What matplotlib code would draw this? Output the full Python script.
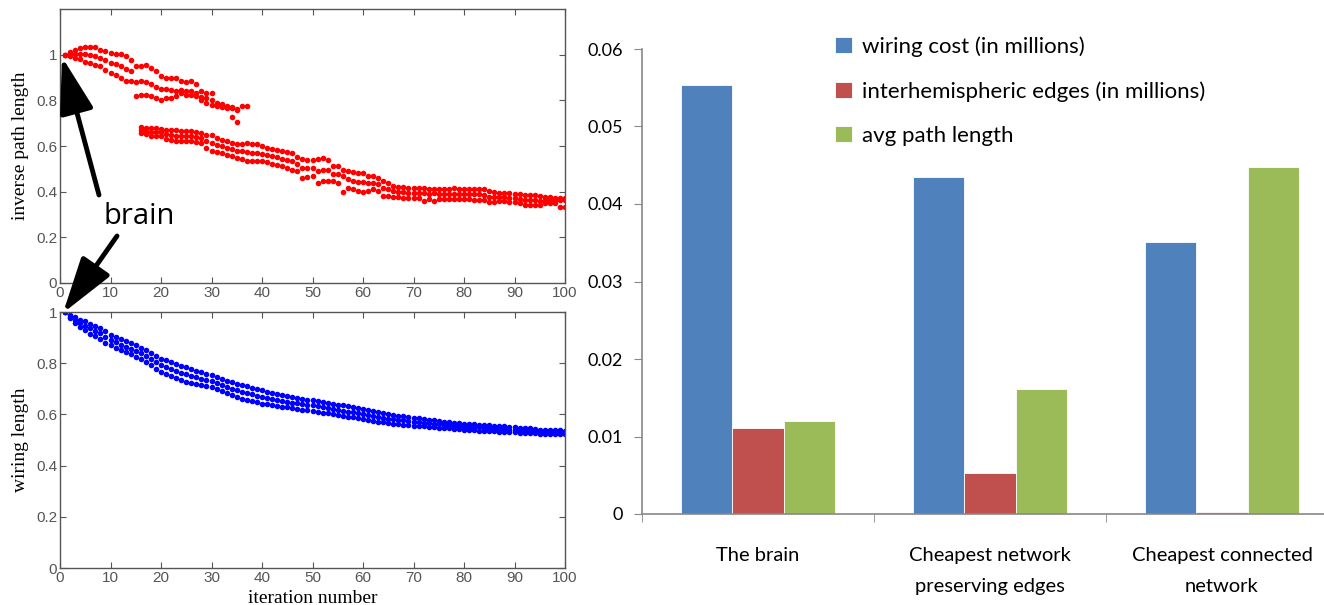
import numpy as np
import matplotlib as mpl
mpl.use('Agg')
import matplotlib.pyplot as plt

nan = np.nan

# ---- left: red scatter (inverse path length) ----
# upper branch, iterations 1..37
red_up_iter = list(range(1, 38))
red_up_hi = [1.000, 1.010, 1.020, 1.030, 1.035, 1.035, 1.035, 1.020, 1.015, 1.007,
             1.005, 1.005, 0.993, 0.978, 0.950, 0.950, 0.956, 0.942, 0.927, 0.905,
             0.900, 0.900, 0.900, 0.883, 0.880, 0.883, 0.870, 0.840, 0.832, 0.830,
             0.790, 0.783, 0.774, 0.770, 0.762, 0.774, 0.774]
red_up_mid = [1.000, 1.002, 1.003, 1.005, 1.003, 1.000, 0.995, 0.985, 0.975, 0.963,
              0.958, 0.952, 0.938, 0.930, 0.880, 0.885, 0.880, 0.870, 0.860, 0.850,
              0.850, 0.845, 0.840, 0.845, 0.840, 0.840, 0.830, 0.815, 0.810, 0.800,
              0.780, 0.776, 0.770, 0.765, 0.757, nan, nan]
red_up_lo = [1.000, 0.995, 0.985, 0.980, 0.970, 0.965, 0.955, 0.950, 0.935, 0.920,
             0.912, 0.900, 0.883, 0.883, 0.818, 0.825, 0.825, 0.818, 0.810, 0.800,
             0.812, 0.812, 0.820, 0.830, 0.825, 0.825, 0.817, 0.800, 0.790, 0.780,
             0.774, 0.770, 0.767, 0.727, 0.704, nan, nan]

# lower branch, iterations 16..100
red_lo_iter = list(range(16, 101))
red_lo_hi = [0.683, 0.680, 0.680, 0.678, 0.676, 0.672, 0.670, 0.668, 0.667, 0.665,
             0.664, 0.660, 0.657, 0.650, 0.648, 0.635, 0.628, 0.620, 0.615, 0.608,
             0.607, 0.612, 0.610, 0.608, 0.600, 0.593, 0.588, 0.584, 0.578, 0.575,
             0.570, 0.552, 0.545, 0.540, 0.540, 0.542, 0.548, 0.540, 0.512, 0.512,
             0.497, 0.490, 0.485, 0.482, 0.482, 0.468, 0.468, 0.462, 0.448, 0.440,
             0.425, 0.420, 0.420, 0.418, 0.418, 0.416, 0.416, 0.412, 0.410, 0.410,
             0.410, 0.412, 0.415, 0.413, 0.410, 0.412, 0.410, 0.410, 0.410, 0.402,
             0.398, 0.395, 0.392, 0.392, 0.390, 0.388, 0.386, 0.384, 0.384, 0.382,
             0.375, 0.375, 0.374, 0.373, 0.372]
red_lo_mid = [0.670, 0.666, 0.662, 0.660, 0.660, 0.651, 0.648, 0.645, 0.643, 0.642,
              0.642, 0.639, 0.635, 0.621, 0.612, 0.603, 0.599, 0.591, 0.586, 0.578,
              0.576, 0.573, 0.571, 0.570, 0.566, 0.561, 0.555, 0.551, 0.545, 0.540,
              0.533, 0.522, 0.503, 0.502, 0.504, 0.491, 0.496, 0.494, 0.478, 0.476,
              0.470, 0.454, 0.448, 0.443, 0.441, 0.436, 0.439, 0.432, 0.415, 0.410,
              0.401, 0.397, 0.397, 0.395, 0.395, 0.394, 0.395, 0.391, 0.392, 0.389,
              0.389, 0.390, 0.390, 0.390, 0.388, 0.389, 0.388, 0.388, 0.387, 0.378,
              0.376, 0.376, 0.375, 0.374, 0.373, 0.370, 0.363, 0.362, 0.362, 0.361,
              0.362, 0.362, 0.362, 0.362, 0.362]
red_lo_lo = [0.657, 0.652, 0.645, 0.643, 0.643, 0.630, 0.625, 0.622, 0.620, 0.620,
             0.620, 0.618, 0.613, 0.592, 0.577, 0.572, 0.570, 0.562, 0.557, 0.548,
             0.545, 0.535, 0.533, 0.533, 0.533, 0.530, 0.522, 0.518, 0.512, 0.505,
             0.497, 0.492, 0.462, 0.465, 0.468, 0.440, 0.445, 0.448, 0.445, 0.440,
             0.398, 0.418, 0.412, 0.405, 0.400, 0.405, 0.410, 0.402, 0.382, 0.380,
             0.378, 0.375, 0.374, 0.373, 0.372, 0.372, 0.358, 0.370, 0.358, 0.368,
             0.368, 0.368, 0.366, 0.366, 0.366, 0.366, 0.365, 0.365, 0.364, 0.355,
             0.355, 0.358, 0.358, 0.356, 0.356, 0.352, 0.340, 0.340, 0.340, 0.340,
             0.350, 0.350, 0.350, 0.331, 0.331]

# ---- left: blue scatter (wiring length), iterations 1..100 ----
blue_iter = list(range(1, 101))
blue_hi = [1.000, 0.990, 0.980, 0.970, 0.963, 0.955, 0.946, 0.937, 0.925, 0.912,
           0.903, 0.894, 0.886, 0.878, 0.870, 0.860, 0.850, 0.840, 0.830, 0.818,
           0.811, 0.804, 0.797, 0.791, 0.785, 0.778, 0.771, 0.764, 0.758, 0.752,
           0.746, 0.739, 0.732, 0.726, 0.720, 0.714, 0.709, 0.704, 0.699, 0.694,
           0.689, 0.684, 0.680, 0.675, 0.670, 0.667, 0.664, 0.661, 0.658, 0.655,
           0.652, 0.648, 0.645, 0.641, 0.638, 0.635, 0.631, 0.627, 0.624, 0.620,
           0.616, 0.612, 0.608, 0.604, 0.600, 0.598, 0.595, 0.593, 0.590, 0.587,
           0.585, 0.582, 0.580, 0.577, 0.574, 0.572, 0.570, 0.568, 0.565, 0.563,
           0.562, 0.561, 0.560, 0.558, 0.557, 0.556, 0.554, 0.553, 0.551, 0.550,
           0.548, 0.546, 0.545, 0.543, 0.541, 0.540, 0.539, 0.538, 0.538, 0.537]
blue_mid = [1.000, 0.982, 0.968, 0.956, 0.946, 0.936, 0.926, 0.917, 0.903, 0.891,
            0.882, 0.873, 0.865, 0.856, 0.848, 0.838, 0.828, 0.816, 0.804, 0.792,
            0.785, 0.777, 0.770, 0.763, 0.756, 0.750, 0.745, 0.739, 0.734, 0.730,
            0.723, 0.716, 0.708, 0.701, 0.694, 0.688, 0.683, 0.678, 0.673, 0.668,
            0.664, 0.660, 0.657, 0.653, 0.649, 0.646, 0.643, 0.640, 0.638, 0.635,
            0.632, 0.628, 0.625, 0.621, 0.618, 0.615, 0.611, 0.608, 0.604, 0.601,
            0.597, 0.594, 0.590, 0.587, 0.583, 0.581, 0.579, 0.577, 0.574, 0.572,
            0.570, 0.568, 0.566, 0.563, 0.561, 0.559, 0.558, 0.556, 0.554, 0.552,
            0.551, 0.550, 0.549, 0.547, 0.546, 0.545, 0.544, 0.543, 0.541, 0.540,
            0.539, 0.537, 0.536, 0.535, 0.533, 0.533, 0.532, 0.531, 0.531, 0.531]
blue_lo = [1.000, 0.975, 0.956, 0.942, 0.929, 0.916, 0.905, 0.896, 0.880, 0.870,
           0.860, 0.852, 0.844, 0.834, 0.825, 0.815, 0.805, 0.792, 0.778, 0.766,
           0.758, 0.750, 0.742, 0.734, 0.727, 0.722, 0.718, 0.714, 0.710, 0.707,
           0.700, 0.692, 0.684, 0.676, 0.668, 0.662, 0.657, 0.652, 0.647, 0.642,
           0.639, 0.636, 0.633, 0.630, 0.628, 0.625, 0.622, 0.619, 0.617, 0.614,
           0.611, 0.607, 0.604, 0.600, 0.597, 0.594, 0.591, 0.588, 0.584, 0.581,
           0.578, 0.575, 0.572, 0.569, 0.566, 0.564, 0.562, 0.560, 0.558, 0.556,
           0.555, 0.553, 0.551, 0.549, 0.548, 0.546, 0.545, 0.543, 0.542, 0.540,
           0.539, 0.538, 0.537, 0.536, 0.535, 0.534, 0.533, 0.532, 0.531, 0.530,
           0.529, 0.528, 0.527, 0.526, 0.525, 0.525, 0.524, 0.524, 0.524, 0.524]

# ---- right: bar chart ----
categories = ['The brain', 'Cheapest network\npreserving edges', 'Cheapest connected\nnetwork']
wiring_cost = [0.0554, 0.0435, 0.0351]
interhemi_edges = [0.0111, 0.0053, 0.0003]
avg_path = [0.0120, 0.0161, 0.0448]
bar_labels = ['wiring cost (in millions)', 'interhemispheric edges (in millions)', 'avg path length']


W, H = 1324, 605
fig = plt.figure(figsize=(W / 100, H / 100), dpi=100)


def px_rect(l, t, r, b):
    return [l / W, 1 - b / H, (r - l) / W, (b - t) / H]


def matlab_style(ax):
    for s in ax.spines.values():
        s.set_color('#555555')
        s.set_linewidth(1.0)
    ax.tick_params(direction='in', top=True, right=True, length=4, color='#555555',
                   labelcolor='#555555', labelsize=11, pad=2)
    for lab in ax.get_xticklabels() + ax.get_yticklabels():
        lab.set_family('Liberation Sans')
    ax.set_xlim(0, 100)
    ax.set_xticks(range(0, 101, 10))


dot = dict(linestyle='none', marker='o', markersize=4.0, markeredgewidth=0)

axT = fig.add_axes(px_rect(60, 9, 565, 283))
for ys in (red_up_hi, red_up_mid, red_up_lo):
    axT.plot(red_up_iter, ys, color='red', **dot)
for ys in (red_lo_hi, red_lo_mid, red_lo_lo):
    axT.plot(red_lo_iter, ys, color='red', **dot)
axT.set_ylim(0, 1.2)
axT.set_yticks([0, 0.2, 0.4, 0.6, 0.8, 1])
axT.set_yticklabels(['0', '0.2', '0.4', '0.6', '0.8', '1'])
matlab_style(axT)
axT.set_ylabel('inverse path length', family='Liberation Serif', fontsize=14, labelpad=5)

axB = fig.add_axes(px_rect(60, 312, 565, 568))
for ys in (blue_hi, blue_mid, blue_lo):
    axB.plot(blue_iter, ys, color='blue', **dot)
axB.set_ylim(0, 1)
axB.set_yticks([0, 0.2, 0.4, 0.6, 0.8, 1])
axB.set_yticklabels(['0', '0.2', '0.4', '0.6', '0.8', '1'])
matlab_style(axB)
axB.set_ylabel('wiring length', family='Liberation Serif', fontsize=14, labelpad=5)
axB.set_xlabel('iteration number', family='Liberation Serif', fontsize=14, labelpad=4)

# "brain" annotation with two arrows (figure pixel coords)
fig.text(104 / W, 1 - 216 / H, 'brain', fontsize=21, family='Open Sans', ha='left', va='center')
arrow = dict(arrowstyle='-|>,head_length=2.3,head_width=0.7', lw=3.5, color='black',
             shrinkA=0, shrinkB=0, mutation_scale=15)
fig.add_artist(mpl.patches.FancyArrowPatch((99, H - 195), (62, H - 57), transform=None, **arrow))
fig.add_artist(mpl.patches.FancyArrowPatch((117, H - 236), (63, H - 313), transform=None, **arrow))

# ---- bar chart ----
axR = fig.add_axes(px_rect(642, 49, 1338, 514))
x = np.arange(len(categories))
bw = 0.22
colors = ['#4F81BD', '#C0504D', '#9BBB59']
for i, (vals, lab) in enumerate(zip([wiring_cost, interhemi_edges, avg_path], bar_labels)):
    axR.bar(x + (i - 1) * bw, vals, bw, color=colors[i], edgecolor='white', linewidth=0.6, label=lab)
axR.set_xlim(-0.5, 2.5)
axR.set_ylim(0, 0.06)
axR.set_yticks([0, 0.01, 0.02, 0.03, 0.04, 0.05, 0.06])
axR.set_yticklabels(['0', '0.01', '0.02', '0.03', '0.04', '0.05', '0.06'])
axR.set_xticks(x)
axR.set_xticklabels(categories, family='Lato', fontsize=14.5, linespacing=1.95)
axR.set_xticks([-0.5, 0.5, 1.5, 2.5], minor=True)
axR.tick_params(axis='x', which='major', length=0, pad=24)
axR.tick_params(axis='x', which='minor', length=6, direction='out', color='#888888')
axR.tick_params(axis='y', length=6, direction='out', color='#888888', labelsize=13, pad=8)
for lab in axR.get_yticklabels():
    lab.set_family('Lato')
for s in ('top', 'right'):
    axR.spines[s].set_visible(False)
for s in ('left', 'bottom'):
    axR.spines[s].set_color('#888888')
    axR.spines[s].set_linewidth(1.2)

leg = axR.legend(loc='upper left', bbox_to_anchor=(815 / W, 1 - 16 / H),
                 bbox_transform=fig.transFigure, frameon=False, handlelength=0.75,
                 handleheight=0.75, handletextpad=0.45, labelspacing=1.1,
                 prop={'family': 'Lato', 'size': 16})

fig.savefig('out.png', dpi=100)
